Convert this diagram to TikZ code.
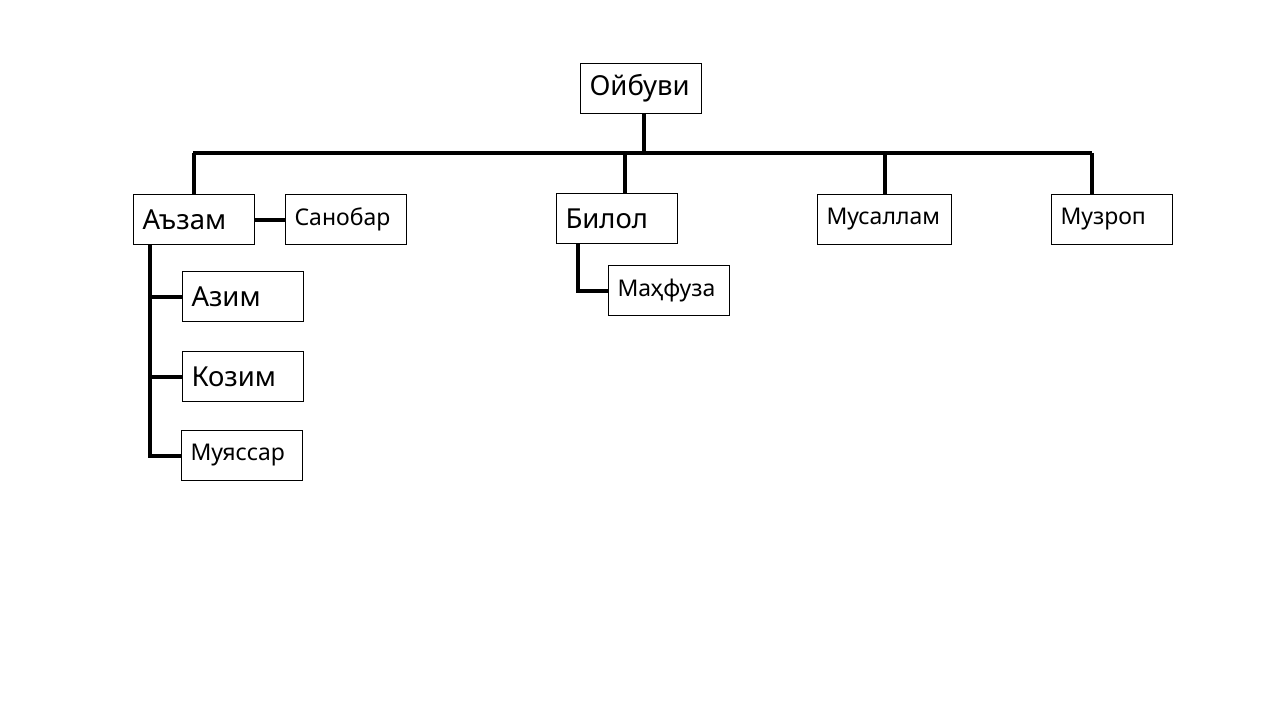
\documentclass[tikz,border=0pt]{standalone}
\usepackage{fontspec}
\setmainfont{Noto Sans}
\usetikzlibrary{calc}

\tikzset{
  box/.style={draw, line width=1pt, anchor=north west, minimum height=50pt,
    inner xsep=9pt, text width=#1, align=left},
  box/.default=103pt,
  big/.style={font=\fontsize{27.5}{31}\selectfont},
  small/.style={font=\fontsize{23}{27}\selectfont},
  link/.style={line width=4pt}
}

\begin{document}
\begin{tikzpicture}[x=1pt,y=-1pt]
\useasboundingbox (0,0) rectangle (1280,720);
%----------------boxes----------
\node[box,big] (oyb) at (580,63) {Ойбуви};
\node[box,big] (azam) at (133,194) {Аъзам};
\node[box,small] (san) at (285,194) {Санобар};
\node[box,big] (bil) at (556,193) {Билол};
\node[box,small] (mah) at (608,265) {Маҳфуза};
\node[box=116pt,small] (mus) at (817,194) {Мусаллам};
\node[box,small] (muz) at (1051,194) {Музроп};
\node[box,big] (azim) at (182,271) {Азим};
\node[box,big] (koz) at (182,351) {Козим};
\node[box,small] (muy) at (181,430) {Муяссар};
%----------------lines----------
\coordinate (busl) at (193,153);
\coordinate (busr) at (1092,153);
\draw[link] (busl) -- (busr);
\draw[link] ([xshift=3pt]oyb.south) -- ([xshift=3pt]oyb.south |- busl);
\draw[link] (azam.north |- busl) -- (azam.north);
\draw[link] ([xshift=8pt]bil.north |- busl) -- ([xshift=8pt]bil.north);
\draw[link] (mus.north |- busl) -- (mus.north);
\draw[link] (busr) -- (busr |- muz.north);
\draw[link] (azam) -- (san);
\coordinate (spine) at ([xshift=17pt]azam.south west);
\draw[link] (spine) |- (muy.west);
\draw[link] (spine |- azim.west) -- (azim.west);
\draw[link] (spine |- koz.west) -- (koz.west);
\draw[link] ([xshift=22pt]bil.south west) |- (mah.west);
\end{tikzpicture}
\end{document}
